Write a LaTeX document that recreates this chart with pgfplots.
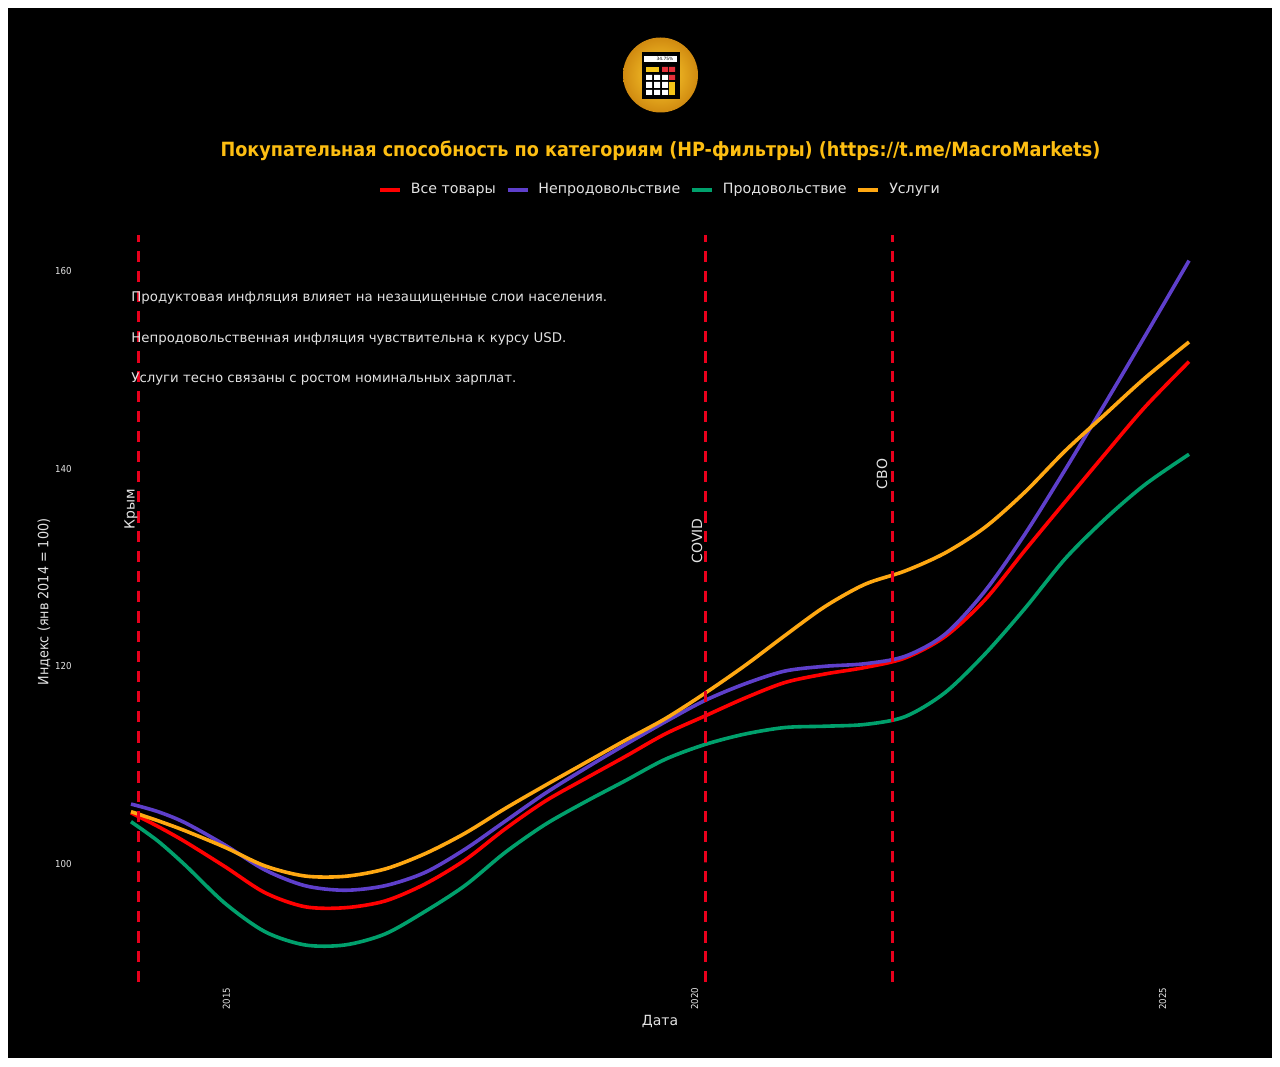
\documentclass[border=0pt]{standalone}
\usepackage{fontspec}
\usepackage{pgfplots}
\usepackage{pgfplotstable}
\pgfplotsset{compat=1.18}
\setmainfont{DejaVu Sans}
\newfontfamily\condfont{DejaVu Sans Condensed}
\definecolor{cred}{HTML}{FF0000}
\definecolor{cpurple}{HTML}{5E3FCB}
\definecolor{cgreen}{HTML}{00A06C}
\definecolor{corange}{HTML}{FFA812}
\definecolor{cvline}{HTML}{E8001C}
\definecolor{ctitle}{HTML}{FDBE12}
\definecolor{ctext}{HTML}{E2E2E2}
\definecolor{gold}{HTML}{FFD030}
\definecolor{golddark}{HTML}{D08A10}
\definecolor{btnred}{HTML}{E5303A}
\definecolor{btnyel}{HTML}{F5C518}

% year, then the four index series (Jan 2014 = 100)
\pgfplotstableread{
year     allgoods nonfood food   services
2013.969 105.09 105.97 104.18 105.20
2014.257 103.70 105.20 102.22 104.28
2014.546 102.16 104.08  99.80 103.27
2014.973  99.63 101.82  95.92 101.59
2015.401  96.99  99.29  93.04  99.70
2015.828  95.57  97.70  91.70  98.68
2016.255  95.47  97.24  91.70  98.65
2016.683  96.15  97.70  92.81  99.39
2017.110  97.87  99.04  95.09 100.94
2017.537 100.30 101.39  97.72 103.01
2017.965 103.44 104.22 101.06 105.51
2018.392 106.25 107.04 103.89 107.85
2018.819 108.53 109.56 106.18 110.13
2019.247 110.77 111.97 108.32 112.41
2019.674 113.06 114.28 110.49 114.60
2020.101 114.89 116.46 112.00 117.19
2020.529 116.71 118.15 113.06 120.00
2020.956 118.28 119.44 113.72 123.04
2021.383 119.14 119.92 113.85 125.97
2021.811 119.80 120.18 114.03 128.23
2022.238 120.76 120.93 114.82 129.57
2022.665 122.92 123.16 117.25 131.39
2023.093 126.66 127.55 121.17 134.00
2023.520 131.67 133.32 125.79 137.57
2023.947 136.56 139.80 130.79 141.72
2024.375 141.42 146.53 134.84 145.43
2024.802 146.18 153.37 138.32 149.12
2025.272 150.77 161.00 141.39 152.76
}\datatable

\begin{document}
\begin{tikzpicture}
\fill[white] (0,0) rectangle (640pt,533pt);
\fill[black] (4pt,4pt) rectangle (636pt,529pt);
\begin{axis}[
    at={(39pt,42pt)}, anchor=south west,
    scale only axis, width=582pt, height=373.5pt,
    xmin=2013.403, xmax=2025.838, ymin=87.949, ymax=163.595,
    axis line style={draw=none}, major tick length=0pt,
    xtick={2015,2020,2025}, ytick={100,120,140,160},
    /pgf/number format/1000 sep={},
    /pgf/number format/assume math mode=true,
    ticklabel style={font=\condfont\fontsize{4.8}{6}\selectfont, text=ctext},
    xticklabel style={rotate=90, anchor=east, inner sep=1pt, yshift=0.5pt, xshift=-1.8pt},
    yticklabel style={anchor=east, inner sep=1pt, xshift=-2pt, yshift=-.4pt},
    xlabel={Дата}, ylabel={Индекс (янв 2014 = 100)},
    label style={text=ctext},
    xlabel style={font=\fontsize{7}{8}\selectfont, at={(axis description cs:0.5,-0.0528)}, anchor=center},
    ylabel style={font=\condfont\fontsize{7.1}{8}\selectfont, at={(axis description cs:-0.0293,0.5087)}, anchor=center},
    legend columns=4,
    legend style={at={(axis description cs:0.5009,1.0603)}, anchor=center,
        fill=none, draw=none, text=ctext, font=\fontsize{7.1}{8}\selectfont,
        /tikz/every even column/.style={column sep=3pt}},
    legend image code/.code={\draw[#1] (0pt,0pt) -- (10pt,0pt);},
    every axis plot/.append style={line width=1.8pt, smooth, no marks},
]
\addplot[cred] table[x=year,y=allgoods] {\datatable};
\addlegendentry{\hspace{2.5pt}Все товары}
\addplot[cpurple] table[x=year,y=nonfood] {\datatable};
\addlegendentry{\hspace{2.5pt}Непродовольствие}
\addplot[cgreen] table[x=year,y=food] {\datatable};
\addlegendentry{\hspace{2.5pt}Продовольствие}
\addplot[corange] table[x=year,y=services] {\datatable};
\addlegendentry{\hspace{2.5pt}Услуги}
\addplot[cvline, line width=1.5pt, dash pattern=on 5.5pt off 4.5pt, forget plot] coordinates {(2014.048,87.949) (2014.048,163.595)};
\addplot[cvline, line width=1.5pt, dash pattern=on 5.5pt off 4.5pt, forget plot] coordinates {(2020.107,87.949) (2020.107,163.595)};
\addplot[cvline, line width=1.5pt, dash pattern=on 5.5pt off 4.5pt, forget plot] coordinates {(2022.104,87.949) (2022.104,163.595)};
\end{axis}
\begin{scope}[x=.5pt,y=-.5pt,yshift=533pt]
% logo
\shade[inner color=gold, outer color=golddark] (660.5,75) circle (37.5);
\fill[black] (642,52) rectangle (680,99);
\fill[white] (644,56) rectangle (677,62);
\node[text=black, font=\fontsize{2.2}{3}\selectfont, inner sep=0pt] at (665,59) {34.75\%};
\fill[btnyel] (646,67) rectangle (659,72);
\fill[btnred] (662,67) rectangle (668,72) (669,67) rectangle (675,72) (669,75) rectangle (675,80);
\fill[white] (646,75) rectangle (652,80) (654,75) rectangle (660,80) (662,75) rectangle (668,80);
\fill[white] (646,82) rectangle (652,88) (654,82) rectangle (660,88) (662,82) rectangle (668,88);
\fill[white] (646,90) rectangle (652,95) (654,90) rectangle (660,95) (662,90) rectangle (668,95);
\fill[btnyel] (669,82) rectangle (675,95);
% title and notes
\node[text=ctitle, font=\condfont\fontsize{9.8}{11}\selectfont\bfseries, inner sep=0pt] at (660.5,150.5) {Покупательная способность по категориям (HP-фильтры) (https://t.me/MacroMarkets)};
\begin{scope}[every node/.style={text=ctext, font=\fontsize{6.66}{8}\selectfont, inner sep=0pt, anchor=west}]
\node at (131,298) {Продуктовая инфляция влияет на незащищенные слои населения.};
\node at (131,338.5) {Непродовольственная инфляция чувствительна к курсу USD.};
\node at (131,379) {Услуги тесно связаны с ростом номинальных зарплат.};
\end{scope}
\begin{scope}[every node/.style={text=ctext, font=\fontsize{7}{8}\selectfont, inner sep=0pt, rotate=90}]
\node at (131,509) {Крым};
\node at (697,541) {COVID};
\node at (882,474) {СВО};
\end{scope}
\end{scope}
\end{tikzpicture}
\end{document}
